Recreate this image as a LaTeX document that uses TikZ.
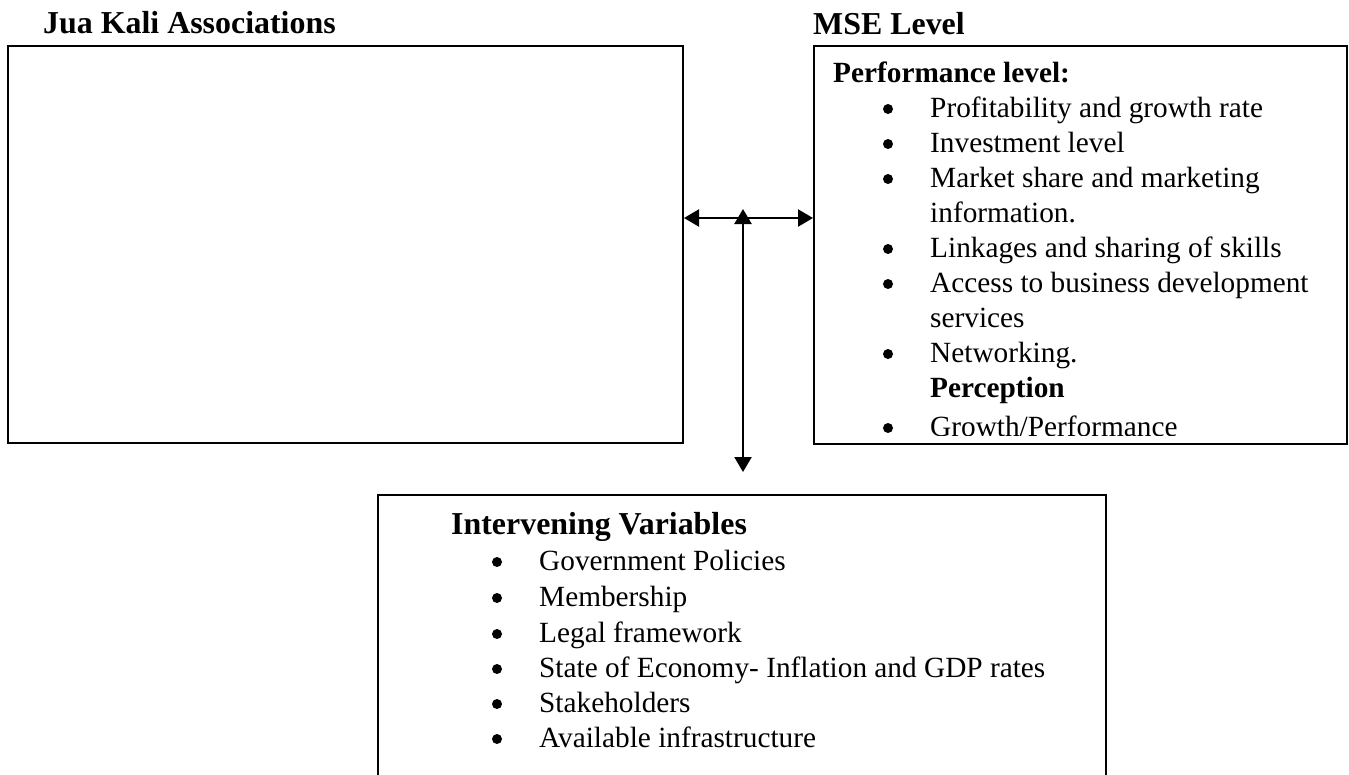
\documentclass[tikz,border=0pt]{standalone}
\usepackage{fontspec}
\setmainfont{Liberation Serif}
\usetikzlibrary{arrows.meta}
\tikzset{
  box/.style={draw=black, line width=2pt, anchor=north west, inner sep=0pt},
  txt/.style={anchor=base west, inner sep=0pt, font=\fontsize{29.3}{35}\selectfont},
  sub/.style={txt, font=\fontsize{29.3}{35}\selectfont\bfseries},
  head/.style={txt, font=\fontsize{31.9}{35}\selectfont\bfseries},
  arr/.style={line width=2.3pt, {Triangle[length=15pt,width=17pt]}-{Triangle[length=15pt,width=17pt]}}
}
\newcommand{\bulat}[1]{\fill[black] ([shift={(-42pt,8pt)}]#1.base west) circle[radius=5pt];}
\begin{document}
\begin{tikzpicture}[x=1pt,y=-1pt]
\useasboundingbox (0,0) rectangle (1349,774);
\clip (0,0) rectangle (1349,774);
% boxes
\node[box, minimum width=675pt, minimum height=397pt] (ja) at (7,45) {};
\node[box, minimum width=533pt, minimum height=398pt] (mse) at (813,45) {};
\node[box, minimum width=728pt, minimum height=320pt] (iv) at (377,494) {};
% titles
\node[head] (tja) at (43,33) {Jua Kali Associations};
\node[head] (tmse) at (813,34) {MSE Level};
% right box content
\begin{scope}
\clip (814,46) rectangle (1345,435);
\node[sub] (pl) at (833,82) {Performance level:};
\node[txt] (r1) at (930,117) {Profitability and growth rate};
\node[txt] (r2) at (930,152) {Investment level};
\node[txt] (r3) at (930,187) {Market share and marketing};
\node[txt] (r3b) at (930,222) {information.};
\node[txt] (r4) at (930,257) {Linkages and sharing of skills};
\node[txt] (r5) at (930,292) {Access to business development};
\node[txt] (r5b) at (930,327) {services};
\node[txt] (r6) at (930,362) {Networking.};
\node[sub] (pc) at (930,397) {Perception};
\node[txt] (r7) at (930,436) {Growth/Performance};
\foreach \n in {r1,r2,r3,r4,r5,r6,r7} {\bulat{\n}}
\end{scope}
% bottom box content
\node[head] (ivt) at (451,534) {Intervening Variables};
\node[txt] (b1) at (539,570) {Government Policies};
\node[txt] (b2) at (539,606) {Membership};
\node[txt] (b3) at (539,642) {Legal framework};
\node[txt] (b4) at (539,677) {State of Economy- Inflation and GDP rates};
\node[txt] (b5) at (539,712) {Stakeholders};
\node[txt] (b6) at (539,747) {Available infrastructure};
\foreach \n in {b1,b2,b3,b4,b5,b6} {\bulat{\n}}
% connectors
\coordinate (hy) at (743,218);
\coordinate (vtop) at (743,209);
\coordinate (vbot) at (743,472);
\draw[arr] (ja.east |- hy) -- (mse.west |- hy);
\draw[arr] (vbot) -- (vtop);
\end{tikzpicture}
\end{document}
